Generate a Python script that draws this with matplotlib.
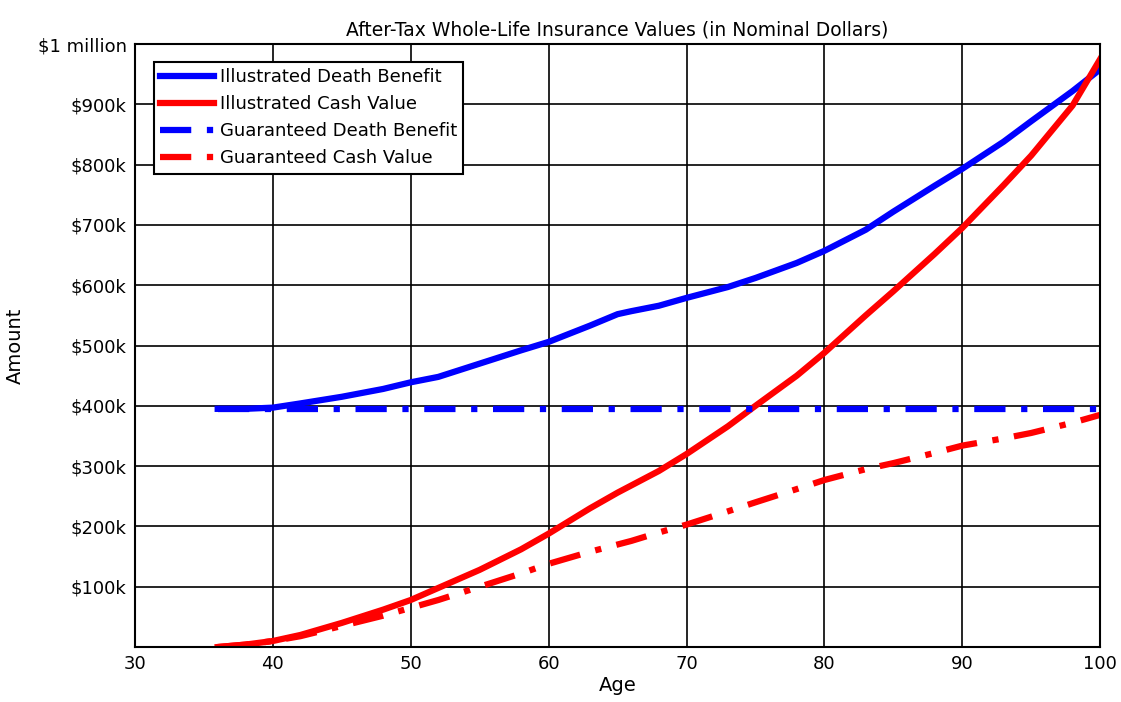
import matplotlib
matplotlib.use('Agg')
import matplotlib.pyplot as plt

plt.rcParams['font.family'] = ['DejaVu Sans']

# values
ages = [36, 38, 40, 42, 45, 48, 50, 52, 55, 58, 60, 63, 65, 66, 68, 70, 73, 75, 78, 80,
        83, 85, 88, 90, 93, 95, 98, 100]
illustrated_death = [395000, 395000, 397000, 404000, 415000, 428000, 439000, 448000, 470000,
                     492000, 506000, 533000, 552000, 557000, 566000, 579000, 597000, 612000,
                     637000, 657000, 692000, 722000, 765000, 793000, 838000, 872000, 922000,
                     958000]
illustrated_cash = [0, 4000, 10000, 20000, 40000, 62000, 78000, 98000, 128000, 162000,
                    188000, 230000, 256000, 268000, 292000, 320000, 366000, 400000, 450000,
                    488000, 550000, 590000, 652000, 695000, 766000, 815000, 898000, 975000]
guaranteed_death = [395000] * len(ages)
guaranteed_cash = [0, 4000, 10000, 18000, 35000, 52000, 65000, 78000, 100000, 122000,
                   138000, 158000, 170000, 176000, 190000, 203000, 225000, 240000, 262000,
                   277000, 295000, 305000, 322000, 334000, 346000, 355000, 372000, 385000]

ytick_vals = [100000, 200000, 300000, 400000, 500000, 600000, 700000, 800000, 900000, 1000000]
ytick_labels = ['$100k', '$200k', '$300k', '$400k', '$500k', '$600k', '$700k', '$800k',
                '$900k', '$1 million']

fig = plt.figure(figsize=(11.21, 7.02), dpi=100)
ax = fig.add_axes([0.1204, 0.0783, 0.861, 0.859])

dashdot = (0, (5, 2.5, 1, 2.5))
ax.plot(ages, illustrated_death, color='#0000ff', lw=4.5, label='Illustrated Death Benefit')
ax.plot(ages, illustrated_cash, color='#ff0000', lw=4.5, label='Illustrated Cash Value')
ax.plot(ages, guaranteed_death, color='#0000ff', lw=4.5, ls=dashdot, label='Guaranteed Death Benefit')
ax.plot(ages, guaranteed_cash, color='#ff0000', lw=4.5, ls=dashdot, label='Guaranteed Cash Value')

ax.set_xlim(30, 100)
ax.set_ylim(0, 1000000)
ax.set_xticks(range(30, 101, 10))
ax.set_yticks(ytick_vals)
ax.set_yticklabels(ytick_labels)
ax.tick_params(labelsize=13, direction='in', length=0, pad=6)
ax.grid(True, color='black', lw=1.2)
for s in ax.spines.values():
    s.set_linewidth(1.5)

ax.set_title('After-Tax Whole-Life Insurance Values (in Nominal Dollars)', fontsize=13.5, pad=6)
ax.set_xlabel('Age', fontsize=14, labelpad=2)
ax.set_ylabel('Amount', fontsize=14, labelpad=9)

leg = ax.legend(loc='upper left', bbox_to_anchor=(0.01, 0.985), fontsize=13, fancybox=False,
                framealpha=1, edgecolor='black', handlelength=3.0, handletextpad=0.3,
                borderpad=0.35, labelspacing=0.5)
leg.get_frame().set_linewidth(1.5)

fig.savefig('out.png', dpi=100)
